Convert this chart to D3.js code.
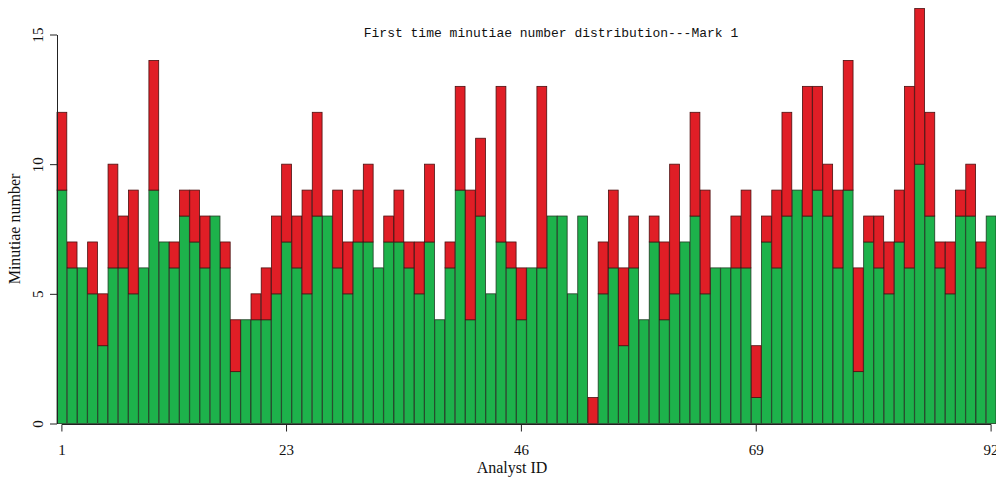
<!DOCTYPE html>
<html>
<head>
<meta charset="utf-8">
<script src="https://cdn.jsdelivr.net/npm/d3@7"></script>
<style>
  body { margin: 0; background: #fff; }
  svg text { fill: #111; }
</style>
</head>
<body>
<svg id="chart" width="996" height="484"></svg>
<script>
// analyst ids 1..92
const analystIds = d3.range(1, 93);
// green part (first marking)
const greenValues = [
    9, 6, 6, 5, 3, 6, 6, 5, 6, 9, 7, 6, 8, 7, 6, 8, 6, 2, 4, 4,
    4, 5, 7, 6, 5, 8, 8, 6, 5, 7, 7, 6, 7, 7, 6, 5, 7, 4, 6, 9,
    4, 8, 5, 7, 6, 4, 6, 6, 8, 8, 5, 8, 0, 5, 6, 3, 6, 4, 7, 4,
    5, 7, 8, 5, 6, 6, 6, 6, 1, 7, 6, 8, 9, 8, 9, 8, 6, 9, 2, 7,
    6, 5, 7, 6, 10, 8, 6, 5, 8, 8, 6, 8
];
// total height (green + red)
const totalValues = [
    12, 7, 6, 7, 5, 10, 8, 9, 6, 14, 7, 7, 9, 9, 8, 8, 7, 4, 4, 5,
    6, 8, 10, 8, 9, 12, 8, 9, 7, 9, 10, 6, 8, 9, 7, 7, 10, 4, 7, 13,
    9, 11, 5, 13, 7, 6, 6, 13, 8, 8, 5, 8, 1, 7, 9, 6, 8, 4, 8, 7,
    10, 7, 12, 9, 6, 6, 8, 9, 3, 8, 9, 12, 9, 13, 13, 10, 9, 14, 6, 8,
    8, 7, 9, 13, 16, 12, 7, 7, 9, 10, 7, 8
];
const xTickValues = [1, 23, 46, 69, 92];
const yTickValues = [0, 5, 10, 15];

const svg = d3.select('#chart');
const plotLeft = 57, plotRight = 996, plotTop = 34.5, plotBottom = 423.5;

const x = d3.scaleBand().domain(analystIds).range([plotLeft, plotRight]).paddingInner(0.04);
const y = d3.scaleLinear().domain([0, 15]).range([plotBottom, plotTop]);
const bw = x.bandwidth();

const rows = analystIds.map((id, i) => ({ id, green: greenValues[i], total: totalValues[i] }));

const bars = svg.append('g');
bars.selectAll('rect.g')
    .data(rows.filter(d => d.green > 0))
    .join('rect')
    .attr('x', d => x(d.id))
    .attr('width', bw)
    .attr('y', d => y(d.green))
    .attr('height', d => y(0) - y(d.green))
    .attr('fill', '#1db24b')
    .attr('stroke', '#1f3a22')
    .attr('stroke-width', 0.8);
bars.selectAll('rect.r')
    .data(rows.filter(d => d.total > d.green))
    .join('rect')
    .attr('x', d => x(d.id))
    .attr('width', bw)
    .attr('y', d => y(d.total))
    .attr('height', d => y(d.green) - y(d.total))
    .attr('fill', '#e01e26')
    .attr('stroke', '#4a1010')
    .attr('stroke-width', 0.8);

// y axis
const yAxis = svg.append('g').attr('transform', `translate(${plotLeft},0)`)
    .call(d3.axisLeft(y).tickValues(yTickValues).tickSize(7).tickSizeOuter(0));
yAxis.select('.domain').attr('stroke', '#222');
yAxis.selectAll('.tick line').attr('stroke', '#222');
yAxis.selectAll('.tick text')
    .attr('font-family', 'Liberation Serif, serif')
    .attr('font-size', 15)
    .attr('x', null).attr('dy', null)
    .attr('text-anchor', 'middle')
    .attr('transform', 'translate(-14,0) rotate(-90)');

// x axis
const cx = id => x(id) + bw / 2;
const xAxis = svg.append('g').attr('transform', `translate(0,${plotBottom + 1})`);
xAxis.append('line')
    .attr('x1', cx(1)).attr('x2', cx(92))
    .attr('stroke', '#222');
xAxis.selectAll('line.t')
    .data(xTickValues)
    .join('line')
    .attr('x1', d => cx(d)).attr('x2', d => cx(d))
    .attr('y1', 0).attr('y2', 7)
    .attr('stroke', '#222');
xAxis.selectAll('text')
    .data(xTickValues)
    .join('text')
    .attr('x', d => cx(d))
    .attr('y', 30)
    .attr('text-anchor', 'middle')
    .attr('font-family', 'Liberation Serif, serif')
    .attr('font-size', 15)
    .text(d => d);

// labels
svg.append('text')
    .attr('x', 512).attr('y', 473)
    .attr('text-anchor', 'middle')
    .attr('font-family', 'Liberation Serif, serif')
    .attr('font-size', 16)
    .text('Analyst ID');
svg.append('text')
    .attr('transform', 'translate(20,229) rotate(-90)')
    .attr('text-anchor', 'middle')
    .attr('font-family', 'Liberation Serif, serif')
    .attr('font-size', 16)
    .text('Minutiae number');
svg.append('text')
    .attr('x', 551).attr('y', 37)
    .attr('text-anchor', 'middle')
    .attr('font-family', 'Liberation Mono, monospace')
    .attr('font-size', 13)
    .text('First time minutiae number distribution---Mark 1');
</script>
</body>
</html>
